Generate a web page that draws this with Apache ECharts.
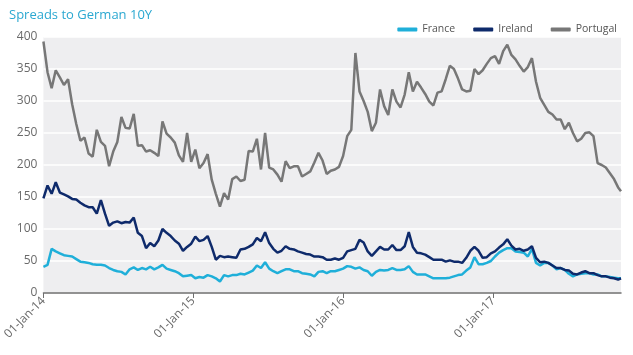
<!DOCTYPE html>
<html>
<head>
<meta charset="utf-8">
<script src="https://cdn.jsdelivr.net/npm/echarts@6/dist/echarts.min.js"></script>
<style>
html,body{margin:0;padding:0;background:#fff;}
#chart{width:633px;height:355px;}
</style>
</head>
<body>
<div id="chart"></div>
<script>
// Sampling grid: every 10 days from 01-Jan-14, last point 08-Nov-17
const startDate = [2014, 0, 1];
const stepDays = 10;
const lastDate = [2017, 10, 8];

const seriesNames = ['France', 'Ireland', 'Portugal'];
const yTicks = [0, 50, 100, 150, 200, 250, 300, 350, 400];

const portugal = [
  393, 345, 320, 348, 337, 325, 334, 295, 264, 238,
  243, 218, 213, 255, 236, 230, 198, 221, 236, 275,
  258, 257, 280, 230, 231, 221, 223, 219, 214, 268,
  249, 243, 235, 215, 205, 250, 205, 224, 195, 203,
  217, 177, 155, 135, 156, 146, 178, 182, 175, 177,
  222, 221, 241, 193, 250, 196, 193, 185, 174, 206,
  195, 198, 198, 182, 186, 190, 204, 219, 207, 186,
  191, 193, 197, 214, 245, 255, 375, 315, 300, 283,
  253, 266, 318, 292, 278, 318, 299, 290, 310, 345,
  315, 330, 321, 311, 299, 293, 313, 315, 334, 355,
  350, 335, 318, 315, 316, 350, 342, 348, 358, 367,
  370, 358, 378, 388, 372, 365, 355, 346, 353, 367,
  330, 305, 294, 283, 279, 271, 271, 256, 266, 250,
  237, 241, 250, 251, 245, 203, 200, 196, 187, 178,
  165, 159
];

const ireland = [
  148, 168, 155, 173, 157, 154, 151, 147, 146, 141,
  137, 134, 134, 124, 145, 124, 105, 110, 112, 109,
  111, 110, 118, 94, 89, 70, 78, 73, 82, 100,
  94, 89, 82, 77, 66, 72, 77, 88, 81, 83,
  89, 72, 52, 58, 56, 57, 56, 55, 68, 69,
  72, 76, 86, 81, 95, 78, 69, 63, 66, 73,
  69, 68, 65, 63, 61, 60, 57, 57, 56, 52,
  52, 54, 52, 55, 65, 67, 69, 83, 79, 65,
  58, 65, 72, 68, 68, 75, 67, 67, 73, 95,
  72, 63, 62, 60, 56, 52, 52, 52, 49, 51,
  49, 49, 47, 55, 66, 72, 66, 55, 56, 62,
  65, 71, 76, 84, 74, 68, 69, 66, 68, 73,
  55, 48, 49, 47, 43, 39, 39, 36, 35, 30,
  29, 32, 34, 31, 31, 28, 26, 26, 24, 23,
  21, 23
];

const france = [
  41, 44, 69, 65, 62, 59, 58, 57, 53, 49,
  48, 47, 45, 44, 44, 43, 39, 36, 34, 33,
  29, 37, 40, 36, 39, 37, 41, 37, 40, 44,
  38, 36, 34, 31, 26, 27, 28, 23, 25, 24,
  28, 26, 23, 18, 28, 26, 28, 28, 30, 29,
  32, 35, 43, 39, 48, 38, 34, 31, 34, 37,
  37, 34, 34, 31, 30, 29, 26, 33, 34, 31,
  34, 34, 36, 38, 42, 41, 38, 40, 36, 34,
  27, 33, 36, 35, 36, 39, 36, 36, 37, 42,
  33, 29, 29, 29, 26, 23, 23, 23, 23, 24,
  26, 28, 29, 35, 40, 56, 45, 45, 47, 50,
  57, 63, 67, 70, 70, 65, 64, 63, 57, 69,
  47, 43, 47, 47, 43, 37, 39, 36, 30, 26,
  29, 30, 31, 31, 29, 29, 26, 26, 25, 24,
  23, 23
];

const dates = [];
for (let i = 0; i < france.length - 1; i++) {
  dates.push(new Date(startDate[0], startDate[1], startDate[2] + i * stepDays).getTime());
}
dates.push(new Date(lastDate[0], lastDate[1], lastDate[2]).getTime());

const pair = arr => arr.map((v, i) => [dates[i], v]);
const MONTHS = ['Jan','Feb','Mar','Apr','May','Jun','Jul','Aug','Sep','Oct','Nov','Dec'];

const chart = echarts.init(document.getElementById('chart'), null, {renderer: 'canvas'});
const font = 'Open Sans';
chart.setOption({
  animation: false,
  backgroundColor: '#ffffff',
  title: {
    text: 'Spreads to German 10Y',
    left: 4, top: 4,
    textStyle: {color: '#2BA8D1', fontSize: 13, fontWeight: 'normal', fontFamily: font}
  },
  legend: {
    data: seriesNames,
    right: 11, top: 19,
    icon: 'roundRect',
    itemWidth: 20, itemHeight: 4, itemGap: 18,
    textStyle: {color: '#555', fontSize: 10.5, fontFamily: font}
  },
  grid: {
    left: 36, right: 12, top: 37, bottom: 62,
    show: true, backgroundColor: '#EEEEF0', borderWidth: 0
  },
  xAxis: {
    type: 'time',
    min: dates[0], max: dates[dates.length - 1],
    minInterval: 365 * 86400000, maxInterval: 366 * 86400000,
    axisLine: {lineStyle: {color: '#6f6f6f', width: 1.5}},
    axisTick: {show: true, length: 5, lineStyle: {color: '#6f6f6f'}},
    splitLine: {show: false},
    axisLabel: {
      rotate: 45, color: '#6a6a6a', fontSize: 12, fontFamily: font, margin: 6,
      showMinLabel: true, showMaxLabel: false,
      formatter: function (val) {
        const d = new Date(val);
        const dd = String(d.getDate()).padStart(2, '0');
        return dd + '-' + MONTHS[d.getMonth()] + '-' + String(d.getFullYear()).slice(2);
      }
    }
  },
  yAxis: {
    type: 'value', min: yTicks[0], max: yTicks[yTicks.length - 1], interval: 50,
    axisLine: {show: false}, axisTick: {show: false},
    splitLine: {lineStyle: {color: '#ffffff', width: 1.5}},
    axisLabel: {color: '#6a6a6a', fontSize: 12, fontFamily: font, margin: 6}
  },
  series: [
    {name: 'France', type: 'line', data: pair(france), showSymbol: false, symbol: 'none',
     lineStyle: {color: '#1FAFD9', width: 2.5}, itemStyle: {color: '#1FAFD9'}},
    {name: 'Ireland', type: 'line', data: pair(ireland), showSymbol: false, symbol: 'none',
     lineStyle: {color: '#0E2A6B', width: 2.5}, itemStyle: {color: '#0E2A6B'}},
    {name: 'Portugal', type: 'line', data: pair(portugal), showSymbol: false, symbol: 'none',
     lineStyle: {color: '#777777', width: 2.5}, itemStyle: {color: '#777777'}}
  ]
});
</script>
</body>
</html>
